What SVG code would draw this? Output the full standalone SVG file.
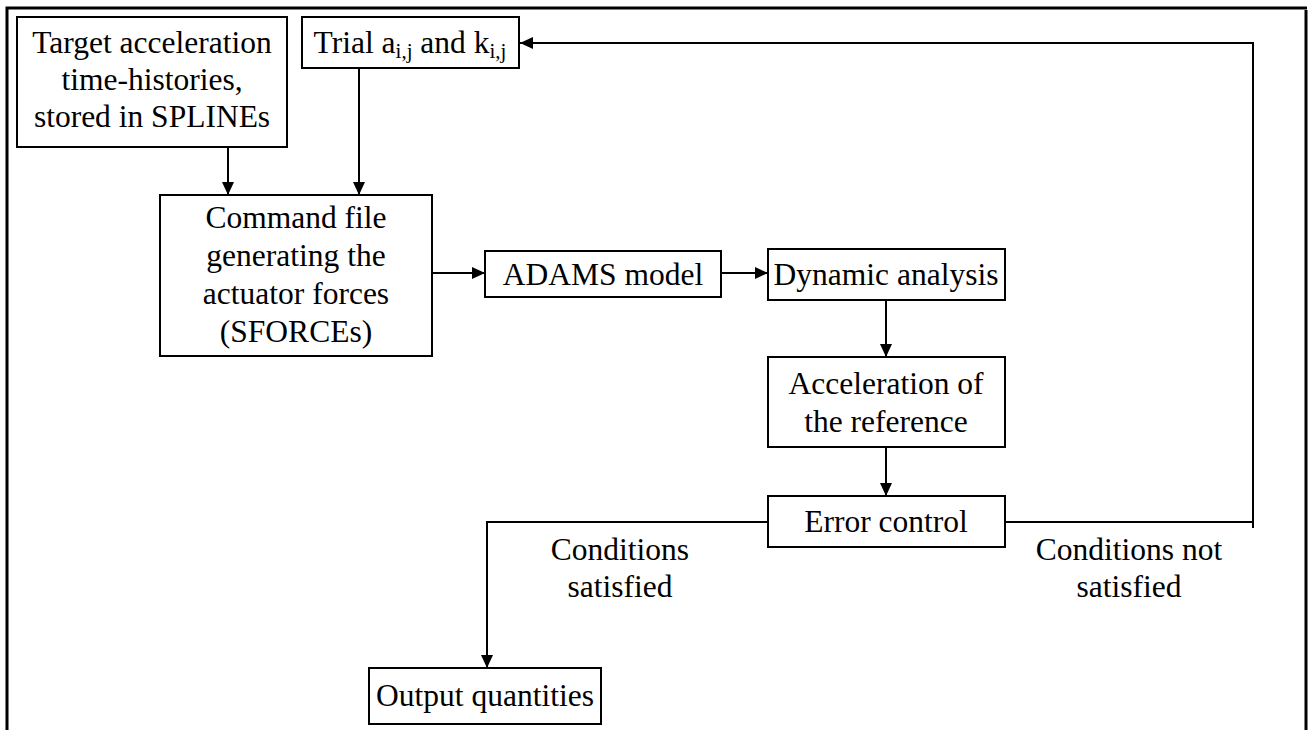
<svg xmlns="http://www.w3.org/2000/svg" width="1308" height="730" viewBox="0 0 1308 730">
<style>
.box{fill:#fff;stroke:#000;stroke-width:2}
.t{font-family:"Liberation Serif","Times New Roman",serif;font-size:31.5px;fill:#000;text-anchor:middle}
.c{fill:none;stroke:#000;stroke-width:2}
.frame{fill:none;stroke:#000;stroke-width:3}
</style>
<defs>
<marker id="ah" markerUnits="userSpaceOnUse" markerWidth="14" markerHeight="14" viewBox="0 0 14 14" refX="13" refY="7" orient="auto">
<path d="M0,1 L13,7 L0,13 Z" fill="#000"/>
</marker>
</defs>
<rect width="1308" height="730" fill="#fff"/>
<g id="frame">
<path class="frame" d="M7,730 V8 H1307 M1306,10 V730"/>
</g>
<g id="connectors">
<path class="c" d="M228,147 V195" marker-end="url(#ah)"/>
<path class="c" d="M359,68 V195" marker-end="url(#ah)"/>
<path class="c" d="M432,273 H485" marker-end="url(#ah)"/>
<path class="c" d="M721,273 H768" marker-end="url(#ah)"/>
<path class="c" d="M886,300 V357" marker-end="url(#ah)"/>
<path class="c" d="M886,447 V496" marker-end="url(#ah)"/>
<path class="c" d="M768,522 H487 V668" marker-end="url(#ah)"/>
<path class="c" d="M1005,522 H1253"/>
<path class="c" d="M1253,528 V43 H520" marker-end="url(#ah)"/>
</g>
<g id="target">
<rect class="box" x="17" y="17" width="270" height="130"/>
<text class="t" x="152" y="53">Target acceleration</text>
<text class="t" x="152" y="90">time-histories,</text>
<text class="t" x="152" y="127">stored in SPLINEs</text>
</g>
<g id="trial">
<rect class="box" x="302" y="17" width="217" height="51"/>
<text class="t" x="410" y="53">Trial a<tspan font-size="21" dy="5">i,j</tspan><tspan dy="-5"> and k</tspan><tspan font-size="21" dy="5">i,j</tspan></text>
</g>
<g id="command">
<rect class="box" x="160" y="195" width="272" height="161"/>
<text class="t" x="296" y="228">Command file</text>
<text class="t" x="296" y="266">generating the</text>
<text class="t" x="296" y="304">actuator forces</text>
<text class="t" x="296" y="342">(SFORCEs)</text>
</g>
<g id="adams">
<rect class="box" x="485" y="251" width="236" height="46"/>
<text class="t" x="603" y="285">ADAMS model</text>
</g>
<g id="dynamic">
<rect class="box" x="768" y="249" width="237" height="51"/>
<text class="t" x="886" y="285">Dynamic analysis</text>
</g>
<g id="acceleration">
<rect class="box" x="768" y="357" width="237" height="90"/>
<text class="t" x="886" y="394">Acceleration of</text>
<text class="t" x="886" y="432">the reference</text>
</g>
<g id="error">
<rect class="box" x="768" y="496" width="237" height="51"/>
<text class="t" x="886" y="532">Error control</text>
</g>
<g id="output">
<rect class="box" x="369" y="668" width="232" height="56"/>
<text class="t" x="485" y="706">Output quantities</text>
</g>
<g id="labels">
<text class="t" x="620" y="560">Conditions</text>
<text class="t" x="620" y="597">satisfied</text>
<text class="t" x="1129" y="560">Conditions not</text>
<text class="t" x="1129" y="597">satisfied</text>
</g>
</svg>
